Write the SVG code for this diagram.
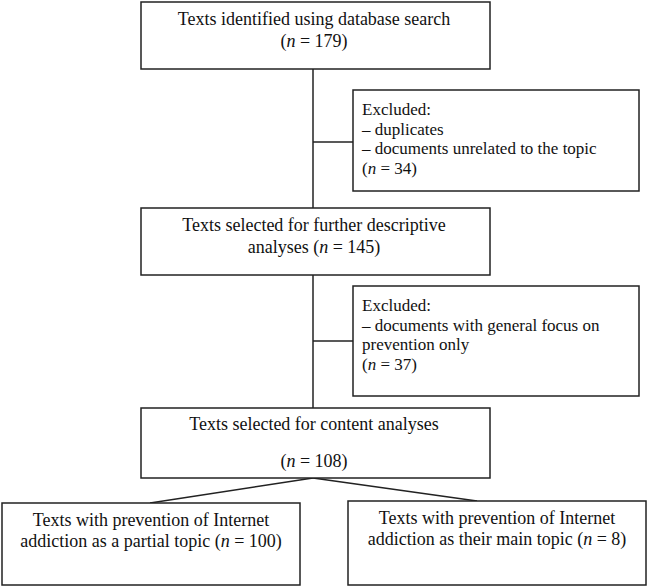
<svg xmlns="http://www.w3.org/2000/svg" width="648" height="586" viewBox="0 0 648 586">
<style>
.box{fill:#fff;stroke:#222;stroke-width:1.5}
.t{font-family:"Liberation Serif","Times New Roman",serif;font-size:18px;fill:#111}
.s{font-size:17px}
.c{text-anchor:middle}
.conn line{stroke:#222;stroke-width:1.5}
</style>
<rect width="648" height="586" fill="#fff"/>
<g id="connectors" class="conn">
<line x1="313" y1="69" x2="313" y2="208"/>
<line x1="313" y1="142" x2="353" y2="142"/>
<line x1="313" y1="275" x2="313" y2="408"/>
<line x1="313" y1="341" x2="353" y2="341"/>
<line x1="313" y1="478" x2="150" y2="503"/>
<line x1="313" y1="478" x2="477" y2="501"/>
</g>
<g id="n1">
<rect class="box" x="141" y="2" width="349" height="67"/>
<text class="t c" x="314" y="25">Texts identified using database search</text>
<text class="t c" x="314" y="47">(<tspan font-style="italic">n</tspan> = 179)</text>
</g>
<g id="ex1">
<rect class="box" x="353" y="90" width="286" height="101"/>
<text class="t s" x="362" y="115">Excluded:</text>
<text class="t s" x="362" y="134.5">– duplicates</text>
<text class="t s" x="362" y="154">– documents unrelated to the topic</text>
<text class="t s" x="362" y="173.5">(<tspan font-style="italic">n</tspan> = 34)</text>
</g>
<g id="n2">
<rect class="box" x="141" y="208" width="349" height="67"/>
<text class="t c" x="314" y="231">Texts selected for further descriptive</text>
<text class="t c" x="314" y="253">analyses (<tspan font-style="italic">n</tspan> = 145)</text>
</g>
<g id="ex2">
<rect class="box" x="353" y="286" width="286" height="110"/>
<text class="t s" x="362" y="311">Excluded:</text>
<text class="t s" x="362" y="330.5">– documents with general focus on</text>
<text class="t s" x="362" y="350">prevention only</text>
<text class="t s" x="362" y="369.5">(<tspan font-style="italic">n</tspan> = 37)</text>
</g>
<g id="n3">
<rect class="box" x="141" y="408" width="349" height="70"/>
<text class="t c" x="314" y="430">Texts selected for content analyses</text>
<text class="t c" x="314" y="467">(<tspan font-style="italic">n</tspan> = 108)</text>
</g>
<g id="n4">
<rect class="box" x="2" y="503" width="298" height="82"/>
<text class="t c" x="151" y="526">Texts with prevention of Internet</text>
<text class="t c" x="151" y="547">addiction as a partial topic (<tspan font-style="italic">n</tspan> = 100)</text>
</g>
<g id="n5">
<rect class="box" x="348" y="501" width="298" height="84"/>
<text class="t c" x="497" y="524">Texts with prevention of Internet</text>
<text class="t c" x="497" y="545">addiction as their main topic (<tspan font-style="italic">n</tspan> = 8)</text>
</g>
</svg>
